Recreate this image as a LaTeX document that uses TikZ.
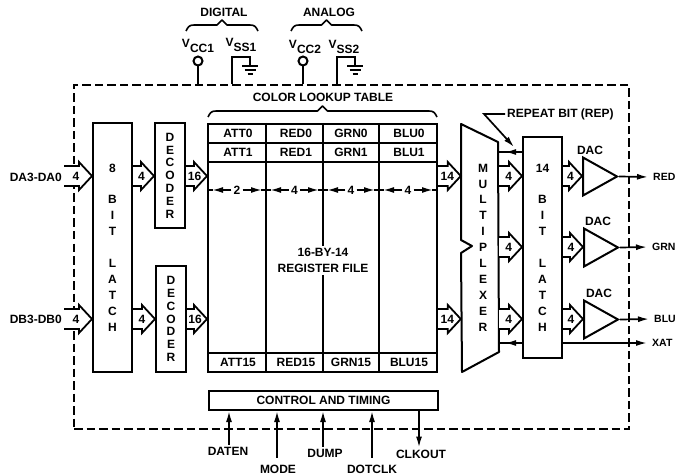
\documentclass[tikz,border=0pt]{standalone}
\usepackage{fontspec}
\setmainfont{Liberation Sans}
\usepackage{xcolor}
\usetikzlibrary{positioning, calc, arrows.meta, shapes.geometric}
\newcommand{\supply}[1]{V\raisebox{-4.5pt}{#1}}

\begin{document}
\begin{tikzpicture}[
    x=1pt, y=-1pt,
    every node/.style={font=\fontsize{12}{14}\selectfont\bfseries, align=center, inner sep=2pt},
    wire/.style={line width=1.7pt},
    arrowed/.style={wire, -{Latex[length=11pt,width=6pt]}},
    block/.style={draw, line width=2pt, minimum width=#1, inner sep=0pt},
    vtext/.style={font=\fontsize{12}{15.9}\selectfont\bfseries, inner sep=0pt},
    dectext/.style={font=\fontsize{12}{12.8}\selectfont\bfseries, inner sep=0pt},
    outlabel/.style={anchor=west, font=\fontsize{10.5}{12}\selectfont\bfseries},
    bus/.style={line width=1.8pt, fill=white},
    dac/.style={draw, line width=2pt, isosceles triangle, isosceles triangle apex angle=60,
        isosceles triangle stretches, minimum width=38pt, minimum height=34pt, inner sep=0pt, anchor=apex},
    pin/.style={circle, draw, line width=2pt, minimum size=9pt, inner sep=0pt},
    brace/.style={line width=1.6pt, line join=round}
]
\useasboundingbox (0,0) rectangle (677,476);

% Dashed chip outline
\node[draw, dashed, dash pattern=on 8.5pt off 4pt, line width=1.5pt, minimum width=555pt, minimum height=344pt] (frame) at (351.5,257) {};

% Signal rows
\coordinate (rowa) at (0,176);
\coordinate (rowb) at (0,247);
\coordinate (rowc) at (0,319);

% Latches and decoders
\node[block=39pt, minimum height=249pt] (latcha) at (112.5,247.5) {};
\node[vtext] at (latcha) {8\\ \\B\\I\\T\\ \\L\\A\\T\\C\\H};
\node[block=30pt, minimum height=105pt] (deca) at (170,175.5) {};
\node[dectext] at (deca) {D\\E\\C\\O\\D\\E\\R};
\node[block=30pt, minimum height=106pt] (decb) at (171,319) {};
\node[dectext] at (decb) {D\\E\\C\\O\\D\\E\\R};
\node[block=39pt, minimum height=221pt] (latchb) at (542.5,247.5) {};
\node[vtext] at (latchb) {14\\ \\B\\I\\T\\ \\L\\A\\T\\C\\H};

% Register table
\node[block=229pt, minimum height=248pt] (table) at (322.5,248) {};
\node (regfile) at (323,260.5) {16-BY-14\\[2pt]REGISTER FILE};
\foreach \y in {143,162,353}
    \draw[wire] (table.west |- 0,\y) -- (table.east |- 0,\y);
\foreach \x in {266,379}
    \draw[wire] (\x,0 |- table.north) -- (\x,0 |- table.south);
\draw[wire] (323,0 |- table.north) -- (regfile.north);
\draw[wire] (regfile.south) -- (323,0 |- table.south);
\foreach \x/\a/\b/\c in {238/ATT0/ATT1/ATT15, 296/RED0/RED1/RED15, 351/GRN0/GRN1/GRN15, 409/BLU0/BLU1/BLU15} {
    \node (\a) at (\x,133.5) {\a};
    \node (\b) at (\x,152.5) {\b};
    \node (\c) at (\x,362.5) {\c};
}
\foreach \name/\xa/\xb/\txt in {wa/208/266/2, wb/266/323/4, wc/323/379/4, wd/379/437/4} {
    \node (\name) at ($(\xa,190)!0.5!(\xb,190)$) {\txt};
    \draw[arrowed] (\name.west) -- (\xa+4,190);
    \draw[arrowed] (\name.east) -- (\xb-4,190);
    \draw[wire] (\xa,190) -- (\xa+5,190) (\xb-5,190) -- (\xb,190);
}

% Multiplexer
\node[minimum width=38pt, minimum height=248pt, inner sep=0pt] (mux) at (480,248) {};
\draw[line width=2pt, line join=round] (461,124) -- (498,142) -- (499,352) -- (462,372) -- (461,253) -- (472,246) -- (461,240) -- cycle;
\node[vtext] (muxtext) at (483,247.5) {M\\U\\L\\T\\I\\P\\L\\E\\X\\E\\R};

% Control block
\node[block=229pt, minimum height=19pt] (control) at (323.5,400.5) {CONTROL AND TIMING};

% DACs
\node[dac] (dacr) at (619,176.5) {};
\node[dac] (dacg) at (620,247.5) {};
\node[dac] (dacb) at (620,319.5) {};
\node (dacrl) at (590,150) {DAC};
\node (dacgl) at (598,221) {DAC};
\node (dacbl) at (599,293) {DAC};

% Inputs and outputs
\node[anchor=east] (dain) at (64,177) {DA3-DA0};
\node[anchor=east] (dbin) at (64,319) {DB3-DB0};
\node[outlabel] (red) at (651,177) {RED};
\node[outlabel] (grn) at (650,247) {GRN};
\node[outlabel] (blu) at (652,319) {BLU};
\node[outlabel] (xat) at (650,343) {XAT};
\draw[arrowed, shorten >=3pt] (dacr.apex) -- (red.west);
\draw[arrowed, shorten >=3pt] (dacg.apex) -- (grn.west);
\draw[arrowed, shorten >=3pt] (dacb.apex) -- (blu.west);
\draw[arrowed, shorten >=3pt] (latchb.east |- xat) -- (xat.west);
\draw[wire] (latchb.west |- xat) -- (mux.east |- xat);
\draw[arrowed] (latchb.west |- xat) -- (505,343);

% Wide buses
\foreach \src/\dst/\row/\txt in {dain/latcha/rowa/4, latcha/deca/rowa/4, deca/table/rowa/16, table/mux/rowa/14,
    mux/latchb/rowa/4, latchb/dacr/rowa/4, mux/latchb/rowb/4, latchb/dacg/rowb/4,
    dbin/latcha/rowc/4, latcha/decb/rowc/4, decb/table/rowc/16, table/mux/rowc/14,
    mux/latchb/rowc/4, latchb/dacb/rowc/4} {
    \path (\src.east |- \row) coordinate (s) (\dst.west |- \row) coordinate (t);
    \draw[bus] ($(s)+(0,-10)$) -- ($(t)+(-13,-10)$) -- ($(t)+(-13,-14)$) -- (t) -- ($(t)+(-13,14)$) -- ($(t)+(-13,10)$) -- ($(s)+(0,10)$);
    \node at ($(s)!0.5!(t)+(-2,0)$) {\txt};
}

% Repeat bit
\node[anchor=west] (rep) at (505,114) {REPEAT BIT (REP)};
\coordinate (repknee) at (484,114);
\coordinate (reptip) at (514,147);
\draw[arrowed] (rep.west) -- (repknee) -- (reptip);
\coordinate (repline) at (0,152);
\draw[wire] (latchb.west |- repline) -- (498,152);
\draw[arrowed] (latchb.west |- repline) -- (505,152);

% Supplies
\node[pin] (vcca) at (198,61) {};
\node[pin] (vccb) at (303,61) {};
\node (vccal) at (198,46) {\supply{CC1}};
\node (vssal) at (241,45) {\supply{SS1}};
\node (vccbl) at (305,47) {\supply{CC2}};
\node (vssbl) at (344,47) {\supply{SS2}};
\draw[wire] (vcca.south) -- (vcca.south |- frame.north);
\draw[wire] (vccb.south) -- (vccb.south |- frame.north);
\coordinate (gnda) at (250,66);
\coordinate (gndb) at (355,66);
\draw[wire] (232,0 |- frame.north) -- (232,57) -| (gnda);
\draw[wire] (337,0 |- frame.north) -- (337,57) -| (gndb);
\foreach \g in {gnda,gndb} {
    \draw[wire] ($(\g)+(-8,0)$) -- ($(\g)+(8,0)$);
    \draw[wire] ($(\g)+(-5.5,4)$) -- ($(\g)+(5.5,4)$);
    \draw[wire] ($(\g)+(-2.5,8)$) -- ($(\g)+(2.5,8)$);
}

% Braces
\node (digital) at (224,12) {DIGITAL};
\node (analog) at (329,12) {ANALOG};
\node (lookup) at (323,97) {COLOR LOOKUP TABLE};
\foreach \xa/\xb/\yb in {186/258/31, 291/362/31, 208/437/117} {
    \draw[brace] (\xa,\yb) .. controls (\xa+2,\yb-4) and (\xa+3,\yb-6) .. (\xa+8,\yb-6)
        -- ({(\xa+\xb)/2-5},\yb-6) -- ({(\xa+\xb)/2},\yb-11) -- ({(\xa+\xb)/2+5},\yb-6)
        -- (\xb-8,\yb-6) .. controls (\xb-3,\yb-6) and (\xb-2,\yb-4) .. (\xb,\yb);
}

% Control pins
\foreach \name/\txt/\x/\lx/\ly/\sep in {daten/DATEN/229/228/451/0, mode/MODE/277/278/469/5, dump/DUMP/323/325/453/0, dotclk/DOTCLK/372/372/469/5} {
    \node[outer sep=\sep pt] (\name) at (\lx,\ly) {\txt};
    \draw[arrowed] (\x,0 |- \name.north) -- (\x,0 |- control.south);
}
\node (clkout) at (421,454) {CLKOUT};
\draw[arrowed] (419,0 |- control.south) -- (419,0 |- clkout.north);

\end{tikzpicture}
\end{document}
